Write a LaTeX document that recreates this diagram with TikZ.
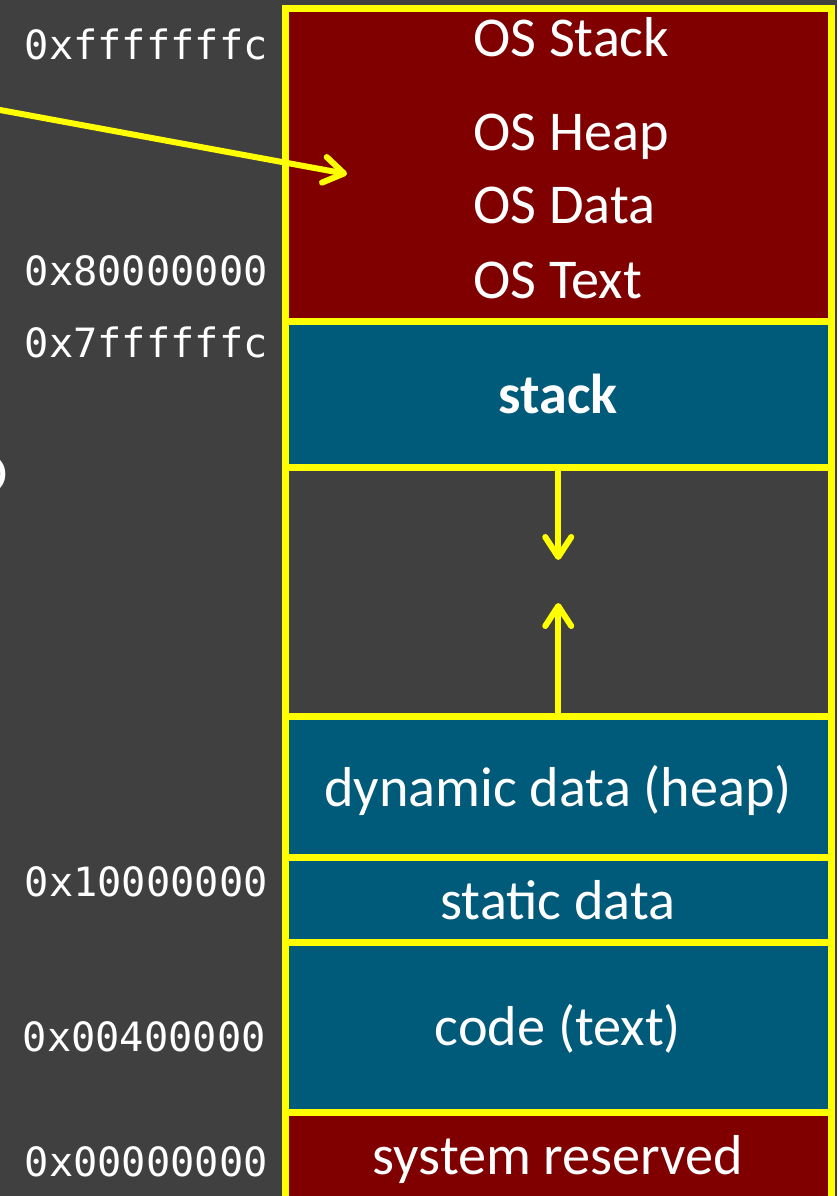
\documentclass[tikz,border=0pt]{standalone}
\usepackage{fontspec}
\setmainfont{Carlito}
\newfontfamily\addrfont{DejaVu Sans Mono}
\usepackage{tikz}
\usetikzlibrary{arrows.meta,positioning}
\definecolor{slidebg}{RGB}{64,64,64}
\definecolor{osred}{RGB}{128,0,0}
\definecolor{segblue}{RGB}{0,90,122}
\definecolor{hiyellow}{RGB}{255,255,0}
\tikzset{
    x=0.025cm, y=-0.025cm,
    seg/.style = {rectangle, draw=hiyellow, line width=0.175cm, outer sep=0pt,
                  inner sep=0pt, minimum width=13.65cm},
    lbl/.style = {text=white, anchor=base, inner sep=0pt,
                  font=\fontsize{40}{44}\selectfont},
    oslbl/.style = {lbl, anchor=base west},
    addr/.style = {text=white, anchor=base east, inner sep=0pt,
                   font=\addrfont\fontsize{28.7}{32}\selectfont},
    growarrow/.style = {draw=hiyellow, line width=0.15cm,
        -{Straight Barb[length=0.5cm,width=0.65cm,line cap=round,line join=round]}}
}

\begin{document}
\begin{tikzpicture}
        \useasboundingbox (0,0) rectangle (837,1196);
        \fill[slidebg] (0,0) rectangle (837,1196);

        % memory segments, top to bottom
        \node[seg, fill=osred, minimum height=7.8cm] (os) at (558.25,165) {};
        \node[seg, fill=segblue, minimum height=3.65cm, below=0pt of os] (stk) {};
        \node[seg, fill=slidebg, minimum height=6.225cm, below=0pt of stk] (gap) {};
        \node[seg, fill=segblue, minimum height=3.525cm, below=0pt of gap] (heap) {};
        \node[seg, fill=segblue, minimum height=2.125cm, below=0pt of heap] (static) {};
        \node[seg, fill=segblue, minimum height=4.25cm, below=0pt of static] (code) {};
        \node[seg, fill=osred, minimum height=2.7cm, below=0pt of code] (sysres) {};

        \node[oslbl] (osstack) at (473,57) {OS Stack};
        \node[oslbl] (osheap) at (473,150) {OS Heap};
        \node[oslbl] (osdata) at (473,223) {OS Data};
        \node[oslbl] (ostext) at (473,298) {OS Text};

        \node[lbl] (stklbl) at (558,413) {\textbf{stack}};
        \node[lbl] (heaplbl) at (558,806) {dynamic data (heap)};
        \node[lbl] (staticlbl) at (558,919) {static data};
        \node[lbl] (codelbl) at (558,1045) {code (text)};
        \node[lbl] (reslbl) at (558,1174) {system reserved};

        % addresses
        \node[addr] (a1) at (268,60) {0xfffffffc};
        \node[addr] (a2) at (268,285) {0x80000000};
        \node[addr] (a3) at (268,357) {0x7ffffffc};
        \node[addr] (a4) at (268,896) {0x10000000};
        \node[addr] (a5) at (266,1051) {0x00400000};
        \node[addr] (a6) at (268,1176) {0x00000000};

        \node[lbl, anchor=base east] (cut) at (8.5,492) {O};

        % stack and heap grow towards each other
        \coordinate (stkend) at (558.25,560);
        \coordinate (heapend) at (558.25,603);
        \draw[growarrow] (stk.south) -- (stkend);
        \draw[growarrow] (heap.north) -- (heapend);

        \coordinate (from) at (-20,106.3);
        \coordinate (osmark) at (347,174);
        \draw[growarrow] (from) -- (osmark);
      \end{tikzpicture}
\end{document}
